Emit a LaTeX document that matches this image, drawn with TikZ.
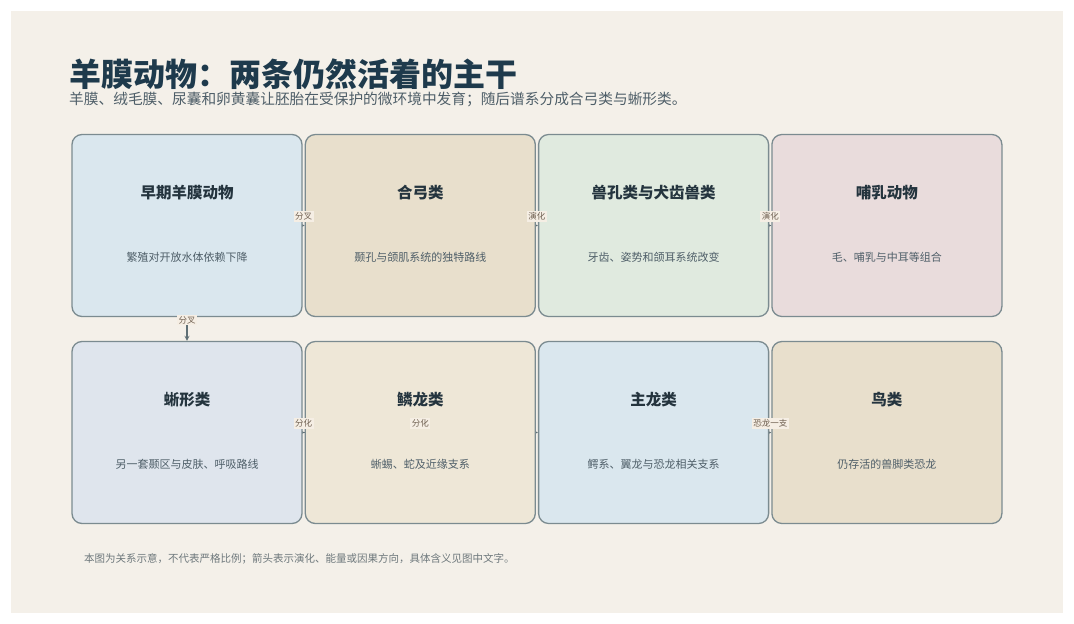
\documentclass[tikz,border=0pt]{standalone}
\usepackage{fontspec}
\setmainfont{Noto Sans CJK SC}
\usepackage{xcolor}
\usepackage{tikz}
\usetikzlibrary{arrows, positioning}
\definecolor{canvas}{HTML}{F4F0E9}
\definecolor{rim}{HTML}{7B8B90}
\definecolor{headink}{HTML}{1E3A4C}
\definecolor{ink}{HTML}{24343E}
\definecolor{slate}{HTML}{4E5E68}
\definecolor{note}{HTML}{6E787C}
\definecolor{wire}{HTML}{5F6F75}
\definecolor{tagfill}{HTML}{F5EEE4}
\definecolor{tagink}{HTML}{6E5F50}
\definecolor{skyfill}{HTML}{DAE7EE}
\definecolor{sandfill}{HTML}{E8DFCC}
\definecolor{sagefill}{HTML}{E0EADF}
\definecolor{rosefill}{HTML}{E9DCDC}
\definecolor{mistfill}{HTML}{DFE5ED}
\definecolor{creamfill}{HTML}{EEE7D7}
\pgfdeclarelayer{back}
\pgfdeclarelayer{wires}
\pgfsetlayers{back,wires,main}
\tikzstyle{panel} = [rectangle, rounded corners=10pt, minimum width=230pt, minimum height=182pt, draw=rim, line width=1.3pt]
\tikzstyle{ptitle} = [font=\fontsize{15.5}{18}\selectfont\bfseries, text=ink]
\tikzstyle{pdesc} = [font=\fontsize{11}{13}\selectfont, text=slate]
\tikzstyle{tag} = [font=\fontsize{8.5}{10}\selectfont, text=tagink, fill=tagfill, inner sep=1.5pt, above=3.5pt]
\tikzstyle{arrow} = [line width=1.2pt, ->, >=stealth, draw=wire]

\begin{document}
\begin{tikzpicture}[x=1pt, y=-1pt]
    \useasboundingbox (0,0) rectangle (1074,624);
    \begin{pgfonlayer}{back}
        \fill[canvas] (11,11) rectangle (1063,613);
    \end{pgfonlayer}

    \node[anchor=west, inner sep=0, text=headink, font=\fontsize{32}{36}\selectfont\bfseries] (head) at (69,74) {羊膜动物：两条仍然活着的主干};
    \node[anchor=west, inner sep=0, text=slate, font=\fontsize{14.7}{17}\selectfont] (sub) at (69,99.5) {羊膜、绒毛膜、尿囊和卵黄囊让胚胎在受保护的微环境中发育；随后谱系分成合弓类与蜥形类。};

    % top row: synapsid line
    \node[panel, fill=skyfill] (early) at (187,225.5) {};
    \node[panel, fill=sandfill, right=2pt of early] (synapsid) {};
    \node[panel, fill=sagefill, right=2pt of synapsid] (therapsid) {};
    \node[panel, fill=rosefill, right=2pt of therapsid] (mammal) {};

    % bottom row: sauropsid line
    \node[panel, fill=mistfill, below=23.7pt of early] (sauropsid) {};
    \node[panel, fill=creamfill, right=2pt of sauropsid] (lepido) {};
    \node[panel, fill=skyfill, right=2pt of lepido] (archo) {};
    \node[panel, fill=sandfill, right=2pt of archo] (bird) {};

    \node[ptitle] (early-t) at ([yshift=33pt]early.center) {早期羊膜动物};
    \node[pdesc] (early-d) at ([yshift=-32pt]early.center) {繁殖对开放水体依赖下降};
    \node[ptitle] (synapsid-t) at ([yshift=33pt]synapsid.center) {合弓类};
    \node[pdesc] (synapsid-d) at ([yshift=-32pt]synapsid.center) {颞孔与颌肌系统的独特路线};
    \node[ptitle] (therapsid-t) at ([yshift=33pt]therapsid.center) {兽孔类与犬齿兽类};
    \node[pdesc] (therapsid-d) at ([yshift=-32pt]therapsid.center) {牙齿、姿势和颌耳系统改变};
    \node[ptitle] (mammal-t) at ([yshift=33pt]mammal.center) {哺乳动物};
    \node[pdesc] (mammal-d) at ([yshift=-32pt]mammal.center) {毛、哺乳与中耳等组合};
    \node[ptitle] (sauropsid-t) at ([yshift=33pt]sauropsid.center) {蜥形类};
    \node[pdesc] (sauropsid-d) at ([yshift=-32pt]sauropsid.center) {另一套颞区与皮肤、呼吸路线};
    \node[ptitle] (lepido-t) at ([yshift=33pt]lepido.center) {鳞龙类};
    \node[pdesc] (lepido-d) at ([yshift=-32pt]lepido.center) {蜥蜴、蛇及近缘支系};
    \node[ptitle] (archo-t) at ([yshift=33pt]archo.center) {主龙类};
    \node[pdesc] (archo-d) at ([yshift=-32pt]archo.center) {鳄系、翼龙与恐龙相关支系};
    \node[ptitle] (bird-t) at ([yshift=33pt]bird.center) {鸟类};
    \node[pdesc] (bird-d) at ([yshift=-32pt]bird.center) {仍存活的兽脚类恐龙};

    % links sit under the panels, tags on top
    \begin{pgfonlayer}{wires}
        \draw[arrow] (early) -- (synapsid);
        \draw[arrow] (synapsid) -- (therapsid);
        \draw[arrow] (therapsid) -- (mammal);
        \draw[arrow] (early) -- (sauropsid);
        \draw[arrow] (sauropsid) -- (lepido);
        \draw[arrow] (sauropsid) -- (archo);
        \draw[arrow] (archo) -- (bird);
    \end{pgfonlayer}
    \path (early) -- node[tag] {分叉} (synapsid);
    \path (synapsid) -- node[tag] {演化} (therapsid);
    \path (therapsid) -- node[tag] {演化} (mammal);
    \path (early) -- node[tag] {分叉} (sauropsid);
    \path (sauropsid) -- node[tag] {分化} (lepido);
    \path (sauropsid) -- node[tag] {分化} (archo);
    \path (archo) -- node[tag] {恐龙一支} (bird);

    \node[anchor=west, inner sep=0, text=note, font=\fontsize{10.5}{12}\selectfont] (foot) at (84,559) {本图为关系示意，不代表严格比例；箭头表示演化、能量或因果方向，具体含义见图中文字。};
\end{tikzpicture}
\end{document}
